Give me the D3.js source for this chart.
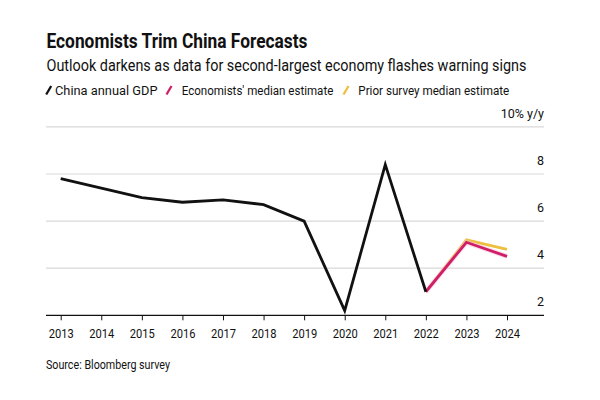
<!DOCTYPE html>
<html><head><meta charset="utf-8">
<script src="https://cdn.jsdelivr.net/npm/d3@7"></script>
<style>
html,body{margin:0;padding:0;background:#fff;}
svg text{font-family:Roboto,"Liberation Sans",Arial,sans-serif;fill:#111;}
</style></head>
<body><svg id="c" width="600" height="400"></svg>
<script>
const years = [2013,2014,2015,2016,2017,2018,2019,2020,2021,2022,2023,2024];
const gdpYears = [2013,2014,2015,2016,2017,2018,2019,2020,2021,2022];
const gdp = [7.8,7.4,7.0,6.8,6.9,6.7,6.0,2.2,8.4,3.0];
const estYears = [2022,2023,2024];
const economists = [3.0,5.1,4.5];
const prior = [3.0,5.2,4.8];
const yTicks = [2,4,6,8,10];
const yTickLabels = ["2","4","6","8","10% y/y"];
const legendLabels = ["China annual GDP","Economists' median estimate","Prior survey median estimate"];

const C_BLACK="#111111", C_PINK="#d01f68", C_YEL="#ecbf3f";

const svg = d3.select("#c");
const x = d3.scaleLinear().domain([2013,2024]).range([60.7,507]);
const y = d3.scaleLinear().domain([2,10]).range([315.3,126.9]);
const gridL = 46, gridR = 544;

function fit(sel, w){
  sel.each(function(){
    const l = this.getComputedTextLength();
    if (Math.abs(l-w)/w > 0.01) {
      d3.select(this).attr("textLength", w).attr("lengthAdjust","spacingAndGlyphs");
    }
  });
}

// Title etc.
svg.append("text").attr("x",46.5).attr("y",47.7).attr("font-size",20).attr("font-weight",700)
  .text("Economists Trim China Forecasts").call(fit, 261);
svg.append("text").attr("x",46.5).attr("y",70.7).attr("font-size",16)
  .attr("fill","#222").text("Outlook darkens as data for second-largest economy flashes warning signs").call(fit, 480);

// Legend
const legend = [
  {sx:46.2, tx:55, tw:102.5, c:C_BLACK},
  {sx:166.5, tx:181.7, tw:151.6, c:C_PINK},
  {sx:343.5, tx:358.3, tw:151, c:C_YEL}
];
legend.forEach((d,i)=>{
  svg.append("line").attr("x1",d.sx).attr("y1",94.5).attr("x2",d.sx+5).attr("y2",86)
    .attr("stroke",d.c).attr("stroke-width",2.3).attr("stroke-linecap","butt");
  svg.append("text").attr("x",d.tx).attr("y",94.5).attr("font-size",12.5)
    .text(legendLabels[i]).call(fit, d.tw);
});

// Gridlines
svg.append("g").selectAll("line").data(yTicks.filter(v=>v>2)).join("line")
  .attr("x1",gridL).attr("x2",gridR).attr("y1",d=>y(d)).attr("y2",d=>y(d))
  .attr("stroke","#d9d9d9").attr("stroke-width",1.2);

// Y labels
svg.append("g").selectAll("text").data(yTicks).join("text")
  .attr("x",gridR).attr("y",d=>y(d)-9).attr("text-anchor","end").attr("font-size",12.5)
  .text((d,i)=>yTickLabels[i]);

// X axis
const xAxis = d3.axisBottom(x).tickValues(years).tickFormat(d3.format("d")).tickSize(5).tickPadding(6);
const gx = svg.append("g").attr("transform",`translate(0,${y(2)})`).call(xAxis);
gx.select(".domain").remove();
gx.selectAll(".tick line").attr("stroke","#111").attr("stroke-width",1);
gx.selectAll(".tick text").attr("font-size",12.5).attr("fill","#111").attr("dy","0.9em")
  .style("font-family","Roboto,'Liberation Sans',Arial,sans-serif").call(fit, 25);
gx.append("line").attr("x1",gridL).attr("x2",gridR).attr("y1",0).attr("y2",0)
  .attr("stroke","#111").attr("stroke-width",1.3);

// Lines
const line = d3.line().x(d=>x(d[0])).y(d=>y(d[1]));
svg.append("path").datum(estYears.map((yr,i)=>[yr,prior[i]]))
  .attr("d",line).attr("fill","none").attr("stroke",C_YEL).attr("stroke-width",2.8).attr("stroke-linejoin","miter");
svg.append("path").datum(estYears.map((yr,i)=>[yr,economists[i]]))
  .attr("d",line).attr("fill","none").attr("stroke","#f7c6d8").attr("stroke-width",5).attr("stroke-opacity",0.5);
svg.append("path").datum(estYears.map((yr,i)=>[yr,economists[i]]))
  .attr("d",line).attr("fill","none").attr("stroke",C_PINK).attr("stroke-width",2.8).attr("stroke-linejoin","miter");
svg.append("path").datum(gdpYears.map((yr,i)=>[yr,gdp[i]]))
  .attr("d",line).attr("fill","none").attr("stroke",C_BLACK).attr("stroke-width",2.8).attr("stroke-linejoin","miter");

// Source
svg.append("text").attr("x",46).attr("y",369).attr("font-size",12).attr("fill","#222")
  .text("Source: Bloomberg survey").call(fit, 124);
</script></body></html>
